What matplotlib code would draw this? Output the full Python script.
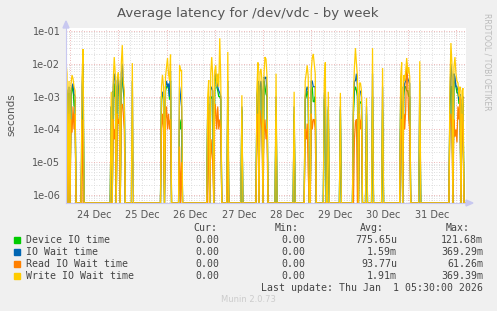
import numpy as np
import matplotlib
matplotlib.use("Agg")
import matplotlib.pyplot as plt
from matplotlib.patches import Rectangle

# ---- data (hours since 24 Dec 00:00, half-hour samples; unlisted samples are 0) ----
hours = [-2.0, -1.5, -1.0, -0.5, 0.0, 0.5, 1.0, 1.5, 2.0, 2.5, 3.0, 6.0, 6.5, 7.0,
         20.5, 21.0, 21.5, 22.0, 22.5, 23.0, 23.5, 24.0, 24.5, 25.0, 25.5, 26.0, 26.5, 27.0, 27.5, 31.0, 31.5,
         45.5, 46.0, 46.5, 47.0, 47.5, 48.0, 48.5, 49.0, 49.5, 50.0, 50.5, 54.5, 55.0, 55.5, 56.0,
         68.5, 69.0, 69.5, 70.0, 70.5, 71.0, 71.5, 72.0, 72.5, 73.0, 73.5, 74.0, 74.5, 75.0, 75.5, 78.5, 79.0, 85.5, 86.0,
         93.0, 93.5, 94.0, 94.5, 95.0, 95.5, 96.0, 96.5, 97.0, 97.5, 98.0, 98.5, 102.5, 103.0, 111.5, 112.0,
         117.0, 117.5, 118.0, 118.5, 119.0, 120.0, 120.5, 121.0, 121.5, 122.0, 122.5, 126.5, 127.0, 127.5, 128.5, 129.0, 134.5, 135.0,
         141.0, 141.5, 142.0, 142.5, 143.0, 143.5, 144.0, 144.5, 145.0, 145.5, 147.5, 148.0, 150.5, 151.0, 155.5, 156.0,
         164.5, 165.0, 165.5, 166.0, 166.5, 167.0, 167.5, 168.0, 168.5, 169.0, 169.5, 174.0, 174.5,
         189.0, 189.5, 190.0, 190.5, 191.0, 191.5, 192.0, 192.5, 193.0, 193.5, 194.0, 194.5, 195.0, 195.5, 196.0]

write_wait = [1.1e-2, 5e-3, 0, 3e-3, 0, 2.5e-3, 4.5e-3, 3.5e-3, 2e-3, 1.5e-3, 0, 4e-3, 2.8e-2, 0,
              1.4e-3, 0, 3e-3, 1.6e-2, 5e-3, 0, 4e-3, 5.6e-3, 2e-3, 0, 1e-2, 3.7e-2, 3e-3, 1.5e-3, 0, 1.05e-2, 0,
              2e-3, 4.6e-3, 2e-3, 0, 4e-3, 8e-3, 1.5e-2, 5e-3, 3e-3, 1.9e-2, 0, 9e-3, 6e-3, 6.5e-3, 0,
              1e-3, 3.2e-3, 0, 5e-3, 1.6e-2, 4e-3, 0, 6e-3, 9e-3, 2e-3, 5e-3, 2e-3, 6e-2, 3e-3, 0, 2.3e-2, 0, 1.1e-3, 0,
              2e-3, 1.1e-2, 0, 5.6e-3, 7e-3, 3e-3, 0, 5e-3, 1.6e-2, 1.4e-2, 4e-3, 0, 5e-3, 0, 1.4e-3, 0,
              3e-3, 5e-3, 9e-3, 4e-3, 0, 6e-3, 1.5e-2, 2e-2, 1e-2, 5e-3, 0, 3e-3, 1.1e-2, 0, 1.4e-3, 0, 1.3e-3, 0,
              1e-3, 8e-3, 3e-2, 1e-2, 4e-3, 0, 2.6e-3, 2.6e-3, 1.5e-3, 0, 9e-4, 0, 3e-2, 0, 7.4e-3, 0,
              4e-3, 1.1e-2, 0, 4.5e-3, 3e-3, 6e-3, 1.5e-2, 5e-3, 8e-3, 4e-3, 0, 1.2e-2, 0,
              2e-3, 4.3e-2, 1e-2, 0, 8e-3, 1.6e-2, 5e-3, 3e-3, 2.6e-3, 1e-3, 2e-3, 0, 1.5e-3, 1.8e-3, 0]

io_wait = [2e-3, 1.5e-3, 0, 2e-3, 0, 1.5e-3, 2e-3, 2.5e-3, 1.2e-3, 1e-3, 0, 2e-3, 1e-2, 0,
           5e-4, 0, 2e-3, 5e-3, 3e-3, 0, 3e-3, 4e-3, 1e-3, 0, 5e-3, 1e-2, 2e-3, 1e-3, 0, 3e-3, 0,
           1e-3, 1.4e-3, 1e-3, 0, 2e-3, 3e-3, 2e-3, 2.5e-3, 1e-3, 6e-3, 0, 2e-3, 1e-3, 5e-4, 0,
           5e-4, 1e-3, 0, 2e-3, 1.8e-3, 1.5e-3, 0, 4e-3, 5e-3, 3e-3, 2e-3, 1.5e-3, 1.3e-3, 1e-3, 0, 3e-3, 0, 5e-4, 0,
           1e-3, 3e-3, 0, 2e-3, 3e-3, 1.5e-3, 0, 4e-3, 3.5e-3, 4e-3, 1.5e-3, 0, 1e-3, 0, 5e-4, 0,
           1e-3, 1.5e-3, 2e-3, 1.5e-3, 0, 3e-3, 3e-3, 2e-3, 2e-3, 2e-3, 0, 1e-3, 3e-3, 0, 5e-4, 0, 5e-4, 0,
           5e-4, 3e-3, 3e-3, 5e-3, 2e-3, 0, 1.3e-3, 1.5e-3, 1e-3, 0, 5e-4, 0, 5e-3, 0, 2e-3, 0,
           1e-3, 2e-3, 0, 1.4e-3, 2.5e-3, 3e-3, 4e-3, 3.5e-3, 3e-3, 2.5e-3, 0, 3e-3, 0,
           1e-3, 1e-2, 4e-3, 0, 5e-3, 4e-3, 2e-3, 2e-3, 1.5e-3, 8e-4, 1.2e-3, 0, 8e-4, 1e-3, 0]

device_time = [1.5e-3, 1.2e-3, 0, 1.3e-3, 0, 1e-3, 1.6e-3, 2e-3, 5e-4, 8e-4, 0, 1e-4, 8e-4, 0,
               5e-4, 0, 1.5e-3, 1e-3, 2.5e-3, 0, 2e-3, 3e-3, 8e-4, 0, 3e-3, 4e-3, 1.5e-3, 8e-4, 0, 0, 0,
               1e-3, 1.2e-3, 8e-4, 0, 1.5e-3, 2e-3, 2e-3, 1.8e-3, 8e-4, 3e-3, 0, 2e-4, 1e-4, 2e-4, 0,
               4e-4, 6e-4, 0, 1e-3, 9e-4, 1e-3, 0, 3e-3, 4e-3, 2e-3, 1.5e-3, 1e-3, 1e-3, 8e-4, 0, 5e-4, 0, 4e-4, 0,
               1e-3, 2e-3, 0, 2e-3, 2.5e-3, 1e-3, 0, 3e-3, 2e-3, 1.2e-3, 1e-3, 0, 5e-4, 0, 3e-4, 0,
               8e-4, 1e-3, 1.5e-3, 1e-3, 0, 1.5e-3, 2e-3, 7e-4, 7e-4, 1e-3, 0, 8e-4, 1e-3, 0, 4e-4, 0, 4e-4, 0,
               3e-4, 1.5e-3, 2e-3, 1.5e-3, 1e-3, 0, 6e-4, 7e-4, 6e-4, 0, 3e-4, 0, 1e-3, 0, 4e-4, 0,
               8e-4, 7e-4, 0, 1e-3, 2e-3, 2e-3, 1.5e-3, 1.5e-3, 1e-3, 1e-3, 0, 6e-4, 0,
               5e-4, 2e-3, 2e-3, 0, 3e-3, 3e-3, 2e-3, 1.3e-3, 1.3e-3, 6e-4, 8e-4, 0, 6e-4, 6e-4, 0]

read_wait = [3e-4, 1e-4, 0, 3e-4, 0, 2e-4, 8e-5, 5e-4, 1e-4, 3e-4, 0, 2e-4, 0, 0,
             0, 0, 2e-4, 5e-5, 1e-4, 0, 3e-4, 1.5e-4, 2e-4, 0, 5e-4, 6e-4, 3e-4, 1e-4, 0, 0, 0,
             1e-4, 3e-4, 1e-4, 0, 2e-4, 5e-4, 1e-4, 3e-4, 1e-4, 2e-4, 0, 3e-5, 0, 1e-5, 0,
             0, 4e-4, 0, 5e-5, 2e-5, 1e-5, 0, 6e-4, 4e-4, 1e-4, 5e-4, 1e-4, 2e-4, 1e-4, 0, 2e-5, 0, 0, 0,
             1e-4, 3e-4, 0, 3.9e-4, 2e-4, 1e-4, 0, 8e-5, 2e-4, 5e-5, 1e-4, 0, 0, 0, 0, 0,
             1e-4, 5e-5, 1.5e-4, 5e-6, 0, 3e-4, 1e-4, 2e-4, 2e-4, 1e-4, 0, 0, 0, 0, 0, 0, 0, 0,
             0, 5e-5, 1.7e-4, 2e-4, 0, 0, 3e-4, 1e-4, 2e-4, 0, 0, 0, 0, 0, 0, 0,
             1e-4, 2e-4, 0, 3e-4, 1e-4, 4e-4, 1.1e-2, 3e-3, 2e-4, 1e-4, 0, 0, 0,
             2e-4, 3e-4, 1e-4, 0, 2e-4, 6e-5, 1e-4, 4e-5, 5e-4, 2e-4, 1e-3, 0, 3e-4, 1e-4, 0]

day_labels = ["24 Dec", "25 Dec", "26 Dec", "27 Dec", "28 Dec", "29 Dec", "30 Dec", "31 Dec"]
ytick_vals = [1e-1, 1e-2, 1e-3, 1e-4, 1e-5, 1e-6]
ytick_labels = ["1e-01", "1e-02", "1e-03", "1e-04", "1e-05", "1e-06"]

series_names = ["Device IO time", "IO Wait time", "Read IO Wait time", "Write IO Wait time"]
series_colors = ["#00CC00", "#0066B3", "#FF8000", "#FFCC00"]
cur_vals = ["0.00", "0.00", "0.00", "0.00"]
min_vals = ["0.00", "0.00", "0.00", "0.00"]
avg_vals = ["775.65u", "1.59m", "93.77u", "1.91m"]
max_vals = ["121.68m", "369.29m", "61.26m", "369.39m"]

# ---- build half-hour grid ----
t_start, t_end = -2.0, 197.0
grid = np.arange(t_start, t_end + 0.25, 0.5)
ymin, ymax = 10 ** -6.244, 10 ** -0.909


def to_grid(vals):
    out = np.zeros_like(grid)
    idx = np.round((np.array(hours) - t_start) / 0.5).astype(int)
    out[idx] = vals
    return np.maximum(out, ymin)


W, H = 497, 311
fig = plt.figure(figsize=(W / 100, H / 100), dpi=100, facecolor="#F0F0F0")
L, R, T, B = 66, 466, 28, 203
ax = fig.add_axes([L / W, 1 - B / H, (R - L) / W, (B - T) / H])
ax.set_facecolor("white")

for vals, col in zip([device_time, io_wait, read_wait, write_wait], series_colors):
    ax.plot(grid, to_grid(vals), color=col, lw=0.9, solid_joinstyle="miter", clip_on=True)

ax.set_yscale("log")
ax.set_ylim(ymin, ymax)
ax.set_xlim(t_start, t_end)

# grid lines
major_red = "#E8A0A0"
minor_grey = "#D4D4D4"
for d in range(0, 9):
    ax.axvline(d * 24, color=major_red, lw=0.6, ls=(0, (1, 2)), zorder=0)
for h in np.arange(0, 198, 6):
    if h % 24:
        ax.axvline(h, color=minor_grey, lw=0.6, ls=(0, (1, 2)), zorder=0)
for e in range(-7, 0):
    for m in range(1, 10):
        v = m * 10.0 ** e
        if ymin < v < ymax:
            if m == 1:
                ax.axhline(v, color=major_red, lw=0.6, ls=(0, (1, 2)), zorder=0)
            else:
                ax.axhline(v, color=minor_grey, lw=0.6, ls=(0, (1, 2)), zorder=0)

ax.set_yticks(ytick_vals)
ax.set_yticklabels(ytick_labels)
ax.yaxis.set_minor_locator(matplotlib.ticker.NullLocator())
ax.set_xticks([12 + 24 * i for i in range(len(day_labels))])
ax.set_xticklabels(day_labels)
ax.tick_params(axis="both", length=0, labelsize=7, colors="#555555", pad=4)
ax.tick_params(axis="x", pad=5)
for s in ["top", "right"]:
    ax.spines[s].set_visible(False)
for s in ["left", "bottom"]:
    ax.spines[s].set_color("#C8C8F0")
    ax.spines[s].set_linewidth(0.8)


def fx(x):
    return x / W


def fy(y):
    return 1 - y / H


# axis arrows
fig.add_artist(matplotlib.patches.Polygon([[fx(L - 3), fy(T)], [fx(L + 3), fy(T)], [fx(L), fy(T - 7)]],
                                          closed=True, color="#C8C8F0", transform=fig.transFigure))
fig.add_artist(matplotlib.patches.Polygon([[fx(R), fy(B - 3)], [fx(R), fy(B + 3)], [fx(R + 7), fy(B)]],
                                          closed=True, color="#C8C8F0", transform=fig.transFigure))

fig.text(fx(248), fy(13), "Average latency for /dev/vdc - by week", ha="center", va="center",
         fontsize=9.5, color="#555555")
fig.text(fx(11), fy(115), "seconds", rotation=90, ha="center", va="center", fontsize=7.5, color="#555555")
fig.text(fx(487), fy(62), "RRDTOOL / TOBI OETIKER", rotation=270, ha="center", va="center",
         fontsize=5.5, color="#BBBBBB")

mono = "DejaVu Sans Mono"
fs = 7.1
tc = "#444444"
header_y = 228
for txt, xr in zip(["Cur:", "Min:", "Avg:", "Max:"], [217, 299, 384, 470]):
    fig.text(fx(xr), fy(header_y), txt, ha="right", va="center", family=mono, fontsize=fs, color=tc)
for i, name in enumerate(series_names):
    y = 240 + i * 12
    fig.add_artist(Rectangle((fx(14), fy(y + 3)), 6 / W, 6 / H, color=series_colors[i],
                             transform=fig.transFigure))
    fig.text(fx(26), fy(y), name, ha="left", va="center", family=mono, fontsize=fs, color=tc)
    for col, xr in zip([cur_vals, min_vals, avg_vals, max_vals], [219, 305, 397, 483]):
        fig.text(fx(xr), fy(y), col[i], ha="right", va="center", family=mono, fontsize=fs, color=tc)
fig.text(fx(483), fy(288), "Last update: Thu Jan  1 05:30:00 2026", ha="right", va="center",
         family=mono, fontsize=fs, color=tc)
fig.text(fx(248), fy(300), "Munin 2.0.73", ha="center", va="center", fontsize=6, color="#CCCCCC")

fig.savefig("out.png", dpi=100, facecolor=fig.get_facecolor())
